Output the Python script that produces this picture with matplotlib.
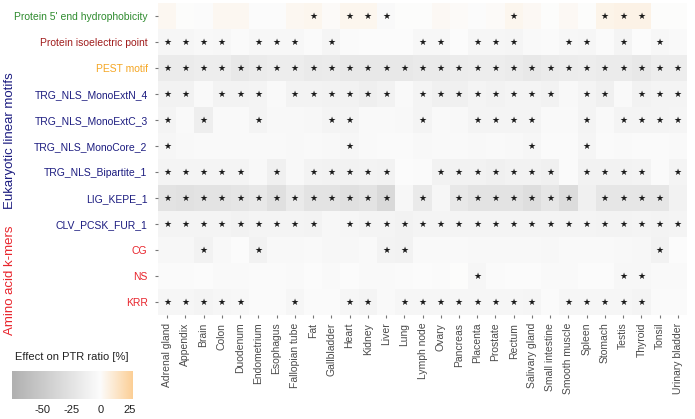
import matplotlib.pyplot as plt
import numpy as np
from matplotlib.colors import LinearSegmentedColormap

plt.rcParams["font.family"] = ["Liberation Sans", "DejaVu Sans"]

tissues = [
    "Adrenal gland", "Appendix", "Brain", "Colon", "Duodenum", "Endometrium",
    "Esophagus", "Fallopian tube", "Fat", "Gallbladder", "Heart", "Kidney",
    "Liver", "Lung", "Lymph node", "Ovary", "Pancreas", "Placenta", "Prostate",
    "Rectum", "Salivary gland", "Small intestine", "Smooth muscle", "Spleen",
    "Stomach", "Testis", "Thyroid", "Tonsil", "Urinary bladder",
]
features = [
    "Protein 5' end hydrophobicity", "Protein isoelectric point", "PEST motif",
    "TRG_NLS_MonoExtN_4", "TRG_NLS_MonoExtC_3", "TRG_NLS_MonoCore_2",
    "TRG_NLS_Bipartite_1", "LIG_KEPE_1", "CLV_PCSK_FUR_1", "CG", "NS", "KRR",
]
feature_colors = [
    "#2e8b2e", "#a01c1c", "#f5a623",
    "#1c1c80", "#1c1c80", "#1c1c80", "#1c1c80", "#1c1c80", "#1c1c80",
    "#e8242c", "#e8242c", "#e8242c",
]

# effect on PTR ratio [%], one list per feature (tissue order as above)
hydrophobicity = [3, 0, -1, 3, 3, -1, -1, 3, 4, 1, 4, 4, -3, 0, 0, 2, 1, -1, 1, 4, 2, 0, 2, 0, 5, 6, 6, 0, 0]
isoelectric = [-6, -6, -4, -5, -2, -5, -5, -5, -2, -7, -2, -1, -1, -1, -5, -5, -1, -6, -6, -7, -3, -2, -5, -6, -2, -8, -1, -5, -3]
pest = [-17, -17, -15, -15, -20, -17, -15, -15, -18, -17, -20, -20, -20, -20, -18, -18, -16, -15, -15, -17, -20, -17, -16, -15, -17, -17, -20, -15, -15]
mono_ext_n4 = [-10, -10, -3, -9, -9, -8, -3, -9, -9, -10, -10, -13, -10, -3, -8, -12, -12, -8, -10, -8, -8, -10, -4, -8, -12, -3, -10, -8, -8]
mono_ext_c3 = [-8, -3, -14, -3, -3, -8, -4, -4, -5, -8, -8, -3, -3, -4, -8, -3, -4, -8, -8, -8, -8, -3, -3, -8, -3, -8, -8, -8, -7]
mono_core2 = [-6, -4, -3, -3, -3, -3, -3, -4, -3, -4, -6, -3, -2, -2, -4, -3, -3, -4, -3, -4, -6, -2, -2, -7, -2, -3, -2, -2, -3]
bipartite1 = [-8, -8, -8, -8, -8, -4, -12, -4, -9, -10, -10, -9, -10, -1, -2, -10, -10, -10, -12, -10, -10, -12, -2, -10, -10, -10, -9, -2, -8]
kepe1 = [-25, -27, -25, -25, -23, -20, -28, -18, -25, -25, -28, -25, -35, -5, -18, -6, -20, -25, -25, -25, -30, -22, -32, -12, -22, -22, -22, -22, -10]
pcsk_fur1 = [-8, -8, -8, -8, -10, -8, -8, -8, -9, -5, -6, -8, -8, -10, -8, -8, -8, -8, -8, -8, -8, -8, -8, -8, -9, -9, -8, -9, -8]
kmer_cg = [-5, -5, -10, -4, -1, -10, -4, -4, -3, -5, -5, -3, -9, -10, -3, -3, -3, -4, -4, -4, -4, -5, -3, -3, -3, -4, -5, -10, -1]
kmer_ns = [-2, -2, -1, -3, -3, -2, -2, -3, -1, -3, -1, -3, -3, -2, -1, -2, 0, -6, -2, -1, -1, -3, -3, -1, -1, -5, -5, -3, -3]
kmer_krr = [-6, -6, -8, -6, -5, -2, -2, -6, -2, -2, -6, -8, -3, -6, -6, -6, -6, -6, -6, -6, -7, -2, -6, -6, -6, -6, -8, -2, -2]

# significance (1 = star)
sig_hydrophobicity = [0,0,0,0,0,0,0,0,1,0,1,1,1,0,0,0,0,0,0,1,0,0,0,0,1,1,1,0,0]
sig_isoelectric = [1,1,1,1,0,1,1,1,0,1,0,0,0,0,1,1,0,1,1,1,0,0,1,1,0,1,0,1,0]
sig_pest = [1] * 29
sig_mono_ext_n4 = [1,1,0,1,1,1,0,1,1,1,1,1,1,0,1,1,1,1,1,1,1,1,0,1,1,0,1,1,1]
sig_mono_ext_c3 = [1,0,1,0,0,1,0,0,0,1,1,0,0,0,1,0,0,1,1,1,1,0,0,1,0,1,1,1,1]
sig_mono_core2 = [1,0,0,0,0,0,0,0,0,0,1,0,0,0,0,0,0,0,0,0,1,0,0,1,0,0,0,0,0]
sig_bipartite1 = [1,1,1,1,1,0,1,0,1,1,1,1,1,0,0,1,1,1,1,1,1,1,0,1,1,1,1,0,1]
sig_kepe1 = [1,1,1,1,1,1,1,1,1,1,1,1,1,0,1,0,1,1,1,1,1,1,1,0,1,1,1,1,0]
sig_pcsk_fur1 = [1,1,1,1,1,1,1,1,1,0,1,1,1,1,1,1,1,1,1,1,1,1,1,1,1,1,1,1,1]
sig_cg = [0,0,1,0,0,1,0,0,0,0,0,0,1,1,0,0,0,0,0,0,0,0,0,0,0,0,0,1,0]
sig_ns = [0,0,0,0,0,0,0,0,0,0,0,0,0,0,0,0,0,1,0,0,0,0,0,0,0,1,1,0,0]
sig_krr = [1,1,1,1,1,0,0,1,0,0,1,1,0,1,1,1,1,1,1,1,1,0,1,1,1,1,1,0,0]

values = np.array([hydrophobicity, isoelectric, pest, mono_ext_n4, mono_ext_c3,
                   mono_core2, bipartite1, kepe1, pcsk_fur1, kmer_cg, kmer_ns, kmer_krr], float)
stars = np.array([sig_hydrophobicity, sig_isoelectric, sig_pest, sig_mono_ext_n4,
                  sig_mono_ext_c3, sig_mono_core2, sig_bipartite1, sig_kepe1,
                  sig_pcsk_fur1, sig_cg, sig_ns, sig_krr])

vmin, vmax = -76, 28
cmap = LinearSegmentedColormap.from_list(
    "ptr", [(0.0, "#b0b0b0"), (-vmin / (vmax - vmin), "#fcfcfc"), (1.0, "#fccf96")])

fig = plt.figure(figsize=(6.95, 4.19), dpi=100)
ax = fig.add_axes([158 / 695, 1 - 315 / 419, 529 / 695, 312 / 419])
ax.pcolormesh(values, cmap=cmap, vmin=vmin, vmax=vmax)
ax.set_xlim(0, len(tissues))
ax.set_ylim(len(features), 0)
for r, c in zip(*np.nonzero(stars)):
    ax.text(c + 0.5, r + 0.5, "\u2605", ha="center", va="center", fontsize=6.5,
            color="#1a1a1a", family="DejaVu Sans")

ax.set_xticks(np.arange(len(tissues)) + 0.5)
ax.set_xticklabels(tissues, rotation=90, fontsize=7.5, color="#4a4a4a")
ax.set_yticks(np.arange(len(features)) + 0.5)
ax.set_yticklabels(features, fontsize=7.5)
for lab, col in zip(ax.get_yticklabels(), feature_colors):
    lab.set_color(col)
ax.tick_params(axis="y", length=2.5, width=0.8, color="#777777", pad=5)
ax.tick_params(axis="x", length=2.5, width=0.8, color="#777777", pad=3)
for s in ax.spines.values():
    s.set_visible(False)

fig.text(10 / 695, 1 - 141 / 419, "Eukaryotic linear motifs", rotation=90,
         ha="center", va="center", fontsize=9.5, color="#1c1c80")
fig.text(10 / 695, 1 - 280 / 419, "Amino acid k-mers", rotation=90,
         ha="center", va="center", fontsize=9.5, color="#e8242c")

# colour bar
cax = fig.add_axes([12 / 695, 1 - 399 / 419, 121 / 695, 28 / 419])
grad = np.linspace(vmin, vmax, 256)[None, :]
cax.imshow(grad, cmap=cmap, vmin=vmin, vmax=vmax, aspect="auto",
           extent=[vmin, vmax, 0, 1])
cax.set_yticks([])
cax.set_xticks([-50, -25, 0, 25])
cax.set_xticklabels(["-50", "-25", "0", "25"], fontsize=8, color="#222222")
cax.tick_params(axis="x", length=0, pad=4)
for s in cax.spines.values():
    s.set_visible(False)
fig.text(72 / 695, 1 - 357 / 419, "Effect on PTR ratio [%]", ha="center",
         va="center", fontsize=8, color="#222222")

fig.savefig("out.png", dpi=100)
